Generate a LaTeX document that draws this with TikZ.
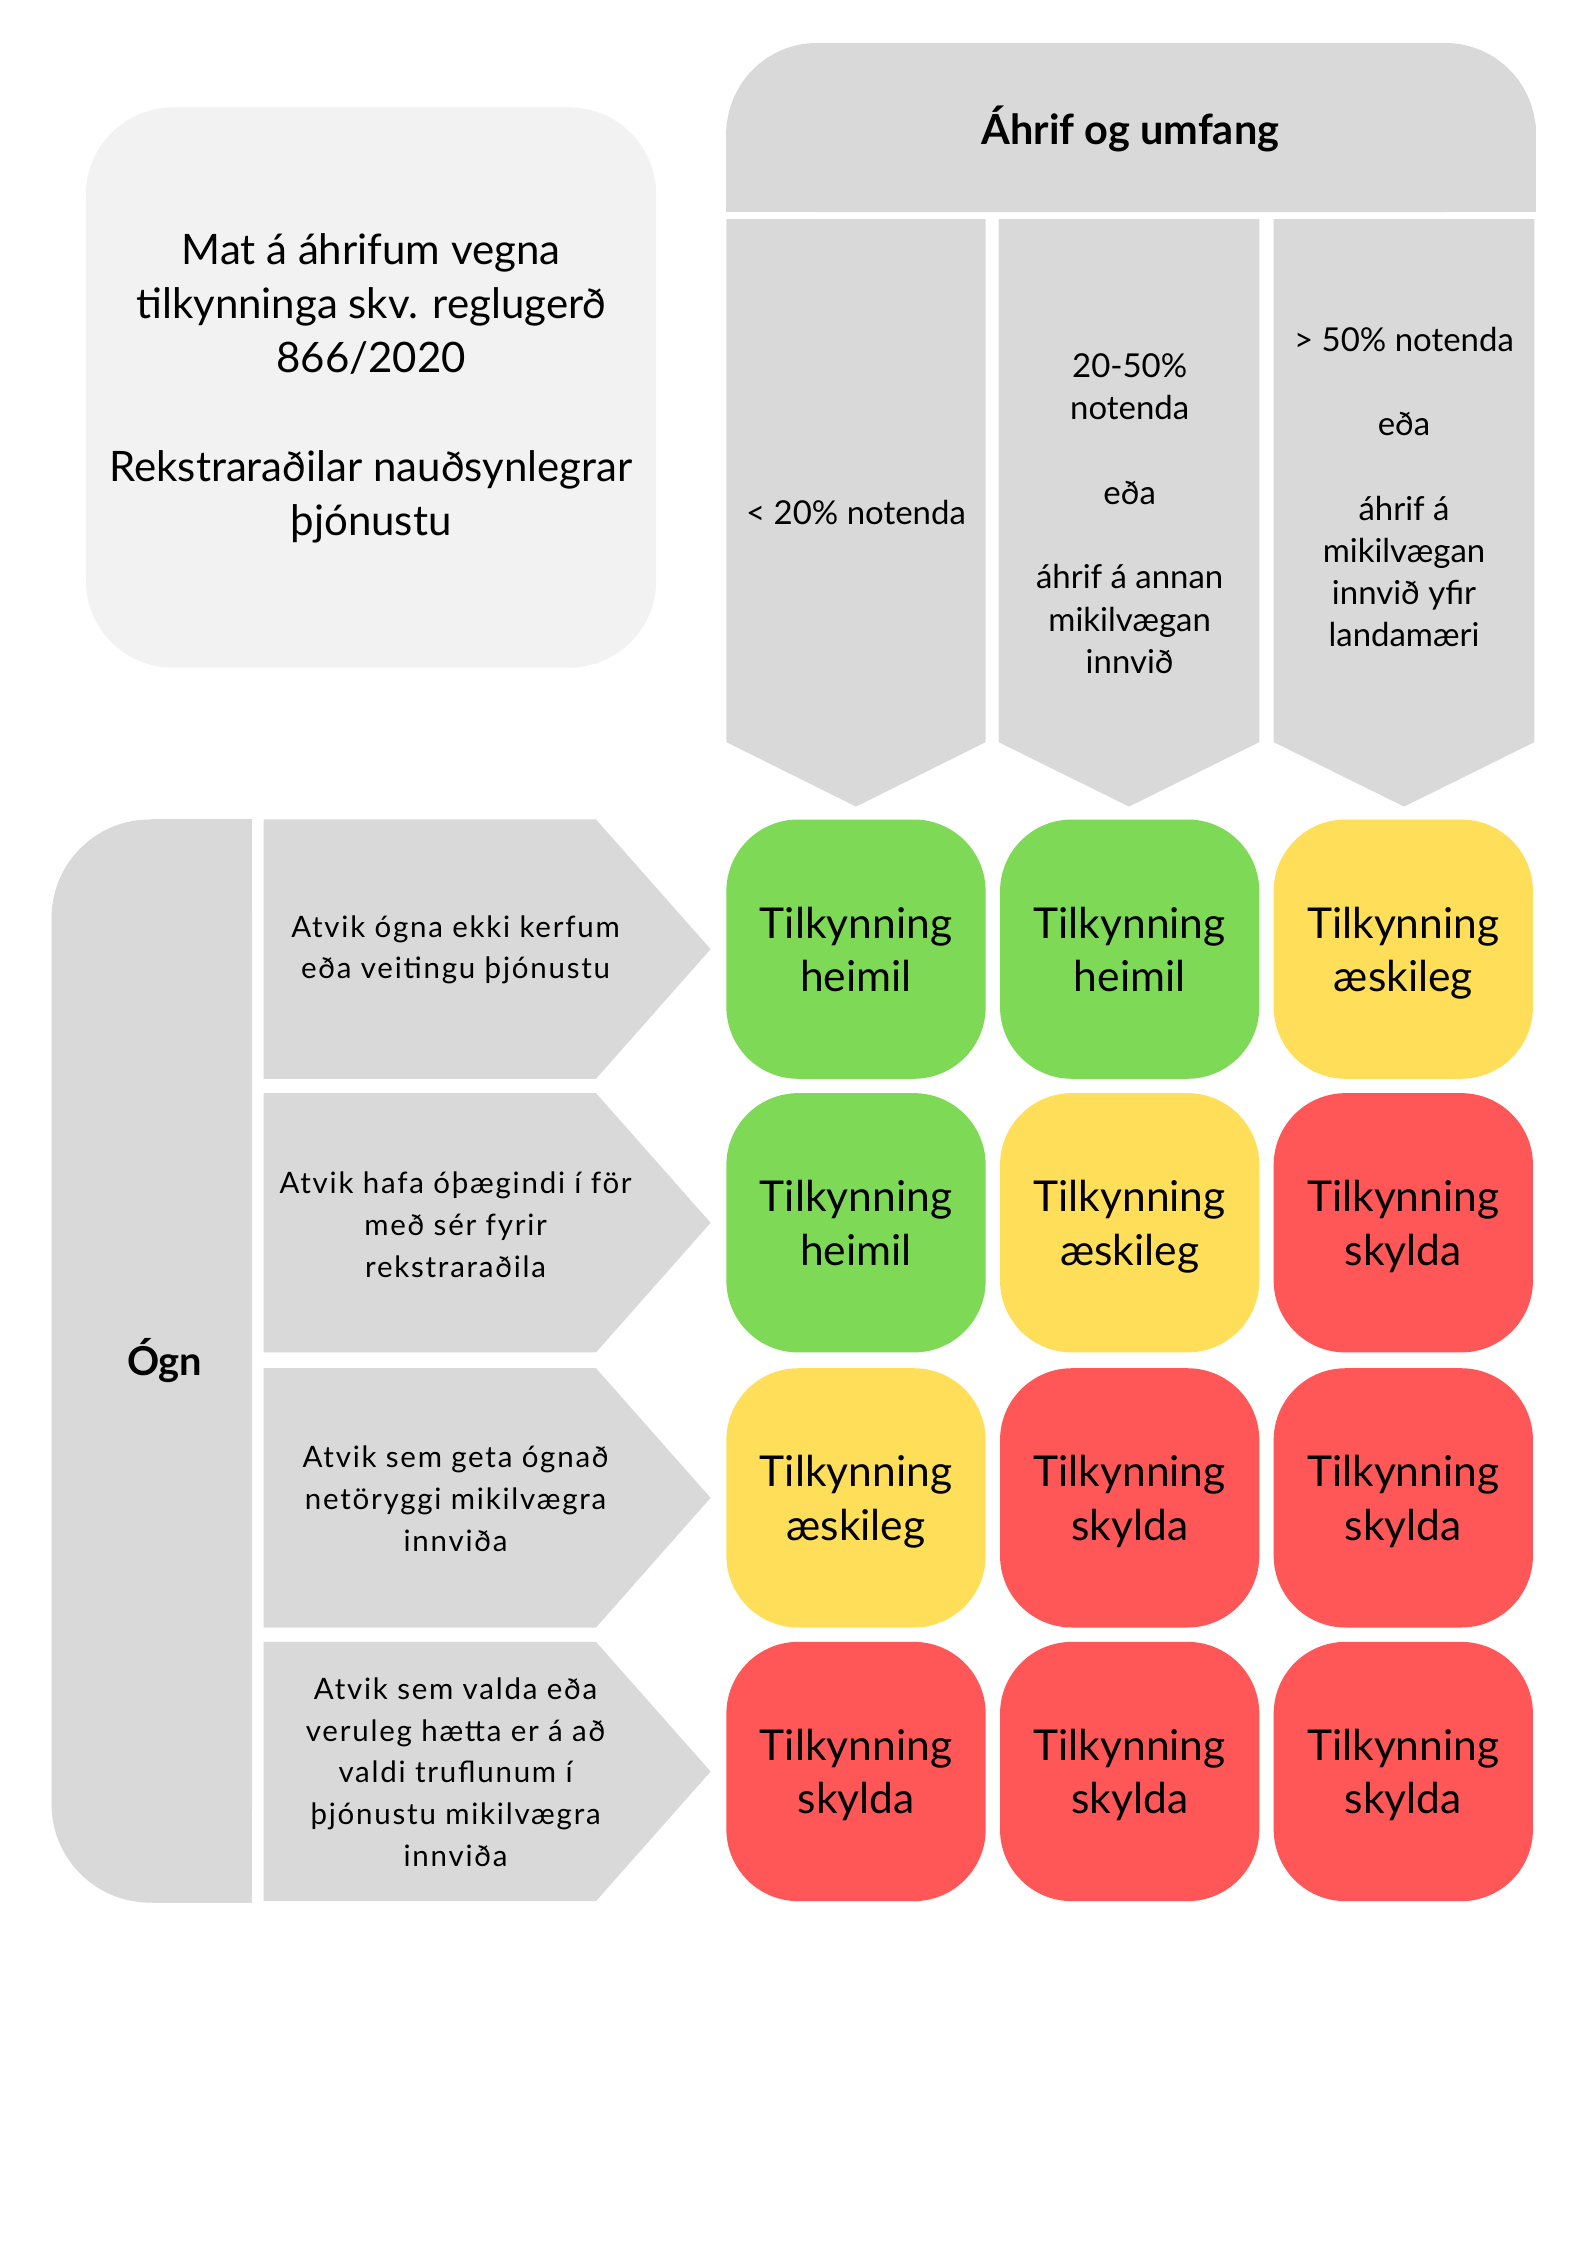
\documentclass[tikz,border=0pt]{standalone}
\usepackage{fontspec}
\setmainfont{Lato}
\newfontfamily\rowfont[LetterSpace=6]{Lato}
\usetikzlibrary{positioning}
\definecolor{grey}{HTML}{D9D9D9}
\definecolor{pale}{HTML}{F2F2F2}
\definecolor{grn}{HTML}{7ED957}
\definecolor{ylw}{HTML}{FFDE59}
\definecolor{rd}{HTML}{FF5757}
\begin{document}
\begin{tikzpicture}[x=0.18953mm,y=-0.18953mm,
    coltext/.style={align=center,font=\fontsize{12.4}{15.9}\selectfont},
    rowtext/.style={align=center,font=\rowfont\fontsize{11.1}{15.7}\selectfont},
    cell/.style={rounded corners=9.5mm,minimum width=34.3mm,minimum height=34.3mm,
      inner sep=0pt,align=center,font=\fontsize{16}{20}\selectfont}]
  \fill[white] (0,0) rectangle (1108,1567);
  \useasboundingbox (0,0) rectangle (1108,1567);
  % title box
  \fill[pale, rounded corners=11.5mm] (60,75) rectangle (458,466);
  \node (info) at (259,271) [align=center,font=\fontsize{15.8}{20.4}\selectfont]
    {Mat á áhrifum vegna\\tilkynninga skv. reglugerð\\866/2020\\[20.4pt]
     Rekstraraðilar nauðsynlegrar\\þjónustu};
  % impact header and columns
  \fill[grey, rounded corners=12mm] (507,30) rectangle (1072,148);
  \fill[grey] (507,90) rectangle (1072,148);
  \node (impact) at (789,90) [font=\bfseries\fontsize{15.6}{20}\selectfont] {Áhrif og umfang};
  \foreach \a/\b in {507/688,697/879,889/1071}
    \fill[grey] (\a,153) -- (\b,153) -- (\b,518) -- ({(\a+\b)/2},563) -- (\a,518) -- cycle;
  \node (col1) at (597.5,358) [coltext] {< 20\% notenda};
  \node (col2) at (788.5,358.5) [coltext]
    {20-50\%\\notenda\\[15.9pt]eða\\[15.9pt]áhrif á annan\\mikilvægan\\innvið};
  \node (col3) at (980,340) [coltext]
    {> 50\% notenda\\[15.9pt]eða\\[15.9pt]áhrif á\\mikilvægan\\innvið yfir\\landamæri};
  % threat side
  \fill[grey, rounded corners=13mm] (36,572) rectangle (176,1328);
  \fill[grey] (106,572) rectangle (176,1328);
  \node (threat) at (115,950) [font=\bfseries\fontsize{15}{20}\selectfont] {Ógn};
  \foreach \y in {572,763,955,1146}
    \fill[grey] (184,\y) -- (416,\y) -- (496,\y+90.5) -- (416,\y+181) -- (184,\y+181) -- cycle;
  \node (row1) at (318,663) [rowtext] {Atvik ógna ekki kerfum\\eða veitingu þjónustu};
  \node (row2) at (318,855) [rowtext] {Atvik hafa óþægindi í för\\með sér fyrir\\rekstraraðila};
  \node (row3) at (318,1046) [rowtext] {Atvik sem geta ógnað\\netöryggi mikilvægra\\innviða};
  \node (row4) at (318,1237) [rowtext]
    {Atvik sem valda eða\\veruleg hætta er á að\\valdi truflunum í\\þjónustu mikilvægra\\innviða};
  % matrix
  \begin{scope}
    \clip (0,0) rectangle (1071,1567);
    \foreach \c/\x/\y/\fc/\word in {
        11/597.5/662.5/grn/heimil, 12/788.5/662.5/grn/heimil, 13/979.5/662.5/ylw/æskileg,
        21/597.5/853.5/grn/heimil, 22/788.5/853.5/ylw/æskileg, 23/979.5/853.5/rd/skylda,
        31/597.5/1045.5/ylw/æskileg, 32/788.5/1045.5/rd/skylda, 33/979.5/1045.5/rd/skylda,
        41/597.5/1236.5/rd/skylda, 42/788.5/1236.5/rd/skylda, 43/979.5/1236.5/rd/skylda}
      \node (cell\c) at (\x,\y) [cell,fill=\fc] {Tilkynning\\\raisebox{0pt}[\height][0pt]{\word}};
  \end{scope}
\end{tikzpicture}
\end{document}
